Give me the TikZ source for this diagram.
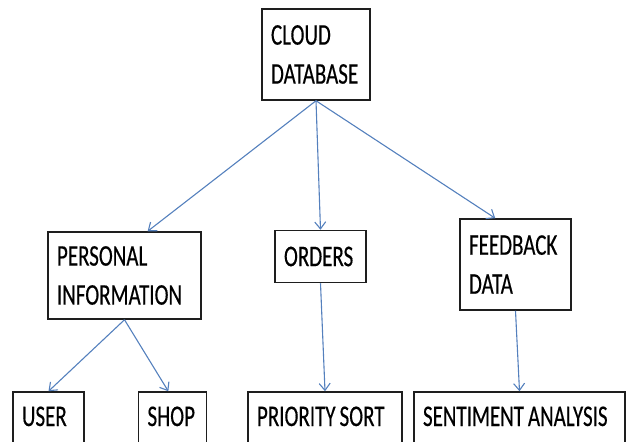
\documentclass[tikz,border=0pt]{standalone}
\usepackage{fontspec}
\setmainfont{Carlito}[FakeStretch=0.70, FakeBold=0.4]
\usetikzlibrary{arrows.meta,calc}
\definecolor{arrowblue}{RGB}{84,128,189}
\definecolor{boxline}{RGB}{30,30,30}
\newcommand{\gap}{\hspace{4pt}}
\begin{document}
\begin{tikzpicture}[x=1pt,y=-1pt,
  box/.style={draw=boxline, line width=1.5pt, rectangle, inner xsep=9pt, inner ysep=0pt,
    align=left, font=\fontsize{30}{39}\selectfont},
  lowbox/.style={box, text height=22pt, text depth=14pt},
  arr/.style={draw=arrowblue, line width=1.1pt, -{Straight Barb[length=7pt,width=11pt]}}]
\useasboundingbox (0,0) rectangle (627,442);
\clip (0,0) rectangle (627,442);

\node[box, text width=90pt, minimum height=91pt] (cloud) at (316,54.5) {CLOUD\\DATABASE};
\node[box, text width=135pt, minimum height=87pt] (personal) at (124.5,275.5) {PERSONAL\\INFORMATION};
\node[box, text width=73pt, minimum height=52pt] (orders) at (320.5,256.5) {ORDERS};
\node[box, text width=93pt, minimum height=91pt] (feedback) at (515.5,264.5) {FEEDBACK\\DATA};

\node[lowbox, text width=53pt, minimum height=60pt] (user) at (48.5,422) {USER};
\node[lowbox, text width=50pt, minimum height=60pt] (shop) at (172.5,422) {SHOP};
\node[lowbox, text width=136pt, minimum height=60pt] (priority) at (325,422) {PRIORITY\gap SORT};
\node[lowbox, text width=193pt, minimum height=60pt] (sentiment) at (519.5,422) {SENTIMENT\gap ANALYSIS};

\draw[arr] (cloud.south) -- ($(personal.north west)!0.65!(personal.north east)$);
\draw[arr] (cloud.south) -- (orders.north);
\draw[arr] (cloud.south) -- ($(feedback.north west)!0.32!(feedback.north east)$);
\draw[arr] (personal.south) -- (user.north);
\draw[arr] (personal.south) -- ($(shop.north west)!0.44!(shop.north east)$);
\draw[arr] (orders.south) -- (priority.north);
\draw[arr] (feedback.south) -- (sentiment.north);
\end{tikzpicture}
\end{document}
